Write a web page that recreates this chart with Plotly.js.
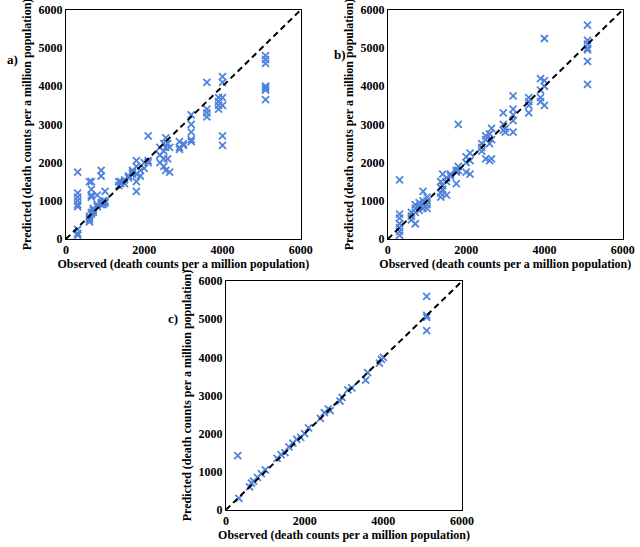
<!DOCTYPE html>
<html><head><meta charset="utf-8">
<script src="https://cdn.plot.ly/plotly-3.0.1.min.js"></script>
<style>body{margin:0;background:#fff}#c{width:640px;height:547px}</style>
</head><body><div id="c"></div>
<script>
const obsA=[300,300,300,300,300,300,300,300,300,600,600,600,600,600,650,650,650,650,650,650,700,700,700,800,800,800,900,900,900,900,950,950,950,1000,1000,1000,1350,1350,1400,1400,1500,1500,1600,1600,1700,1700,1700,1800,1800,1800,1800,1800,1900,1900,2000,2000,2100,2100,2100,2400,2400,2400,2500,2500,2500,2500,2550,2550,2550,2600,2600,2650,2650,2900,2900,2900,3000,3000,3200,3200,3200,3200,3200,3600,3600,3600,3600,3900,3900,3900,3900,4000,4000,4000,4000,4000,4000,5100,5100,5100,5100,5100,5100,5100];
const predA=[1750,1200,1100,1000,900,850,250,150,100,1500,600,550,500,450,1500,1300,1150,1100,700,650,800,750,700,900,850,1150,1800,1650,950,900,1000,950,900,1250,1000,950,1500,1400,1450,1500,1550,1450,1650,1600,1700,1750,1800,2050,1900,1500,1250,1700,1800,1650,1850,2000,2700,2050,2000,2400,2200,2000,2500,2300,2100,1900,2650,2400,1800,2500,2100,1750,2400,2550,2400,2350,2500,2450,3250,3000,2800,2600,2550,4100,3400,3300,3200,3700,3600,3500,3400,4250,4100,3700,3500,2700,2450,4800,4700,4600,4000,3950,3900,3650];
const obsB=[300,300,300,300,300,300,300,600,600,600,700,700,700,700,800,800,800,900,900,900,900,1000,1000,1000,1000,1350,1350,1350,1350,1400,1400,1400,1500,1500,1500,1600,1600,1750,1750,1750,1800,1800,1800,2000,2000,2000,2100,2100,2100,2400,2400,2400,2500,2500,2500,2600,2600,2600,2650,2650,2650,2950,2950,2950,3000,3000,3200,3200,3200,3200,3200,3600,3600,3600,3600,3900,3900,3900,3900,4000,4000,4000,4000,5100,5100,5100,5100,5100,5100,5100];
const predB=[1550,650,550,400,300,200,100,700,600,500,900,800,700,400,950,850,750,1250,1000,900,800,1100,1000,900,800,1500,1350,1200,1100,1700,1400,1300,1600,1500,1150,1650,1700,1800,1750,1450,3000,1900,1800,2150,2000,1750,2250,2050,1700,2500,2400,2300,2700,2600,2100,2750,2500,2050,2900,2600,2100,3300,3000,2850,2900,2800,3750,3400,3250,3100,2800,3700,3600,3500,3300,4200,3900,3700,3600,5250,4150,4000,3500,5600,5200,5100,5000,4950,4650,4050];
const obsC=[300,330,600,650,700,800,900,1000,1300,1400,1500,1600,1700,1800,1900,2000,2100,2400,2500,2600,2650,2900,2950,3100,3200,3550,3600,3900,3950,4000,5100,5100,5100,5100];
const predC=[1420,300,600,700,750,850,950,1050,1350,1450,1500,1650,1750,1850,1900,2000,2150,2400,2550,2650,2600,2850,2950,3150,3200,3400,3600,3850,3950,4000,5600,5100,5050,4700];
const ticks=[0,2000,4000,6000], yticks=[0,1000,2000,3000,4000,5000,6000];
const xTitle='Observed (death counts per a million population)';
const yTitle='Predicted (death counts per a million population)';
const FAM='"Liberation Serif", "Times New Roman", serif';
const F={family:FAM,size:12,color:'#000'};
const col='#4f83dc';
function sc(x,y,n){return {x,y,xaxis:'x'+n,yaxis:'y'+n,type:'scatter',mode:'markers',marker:{symbol:'x-thin',size:7,line:{color:col,width:1.8}},hoverinfo:'skip'};}
function dl(n){return {x:[0,6000],y:[0,6000],xaxis:'x'+n,yaxis:'y'+n,mode:'lines',line:{color:'#000',width:2,dash:'6px,4px'},hoverinfo:'skip'};}
const data=[sc(obsA,predA,''),dl(''),sc(obsB,predB,'2'),dl('2'),sc(obsC,predC,'3'),dl('3')];
function ax(dom,anchor,isY){return {domain:dom,anchor,range:[0,6000],tickvals:isY?yticks:ticks,showgrid:false,zeroline:false,showline:true,mirror:true,linecolor:'#000',linewidth:1,ticks:'',tickfont:{family:FAM,size:12,color:'#000',weight:'bold'},title:{text:'<b>'+(isY?yTitle:xTitle)+'</b>',font:F,standoff:isY?4:2}};}
const layout={width:640,height:547,margin:{l:0,r:0,t:0,b:0},showlegend:false,paper_bgcolor:'#fff',plot_bgcolor:'#fff',font:{family:FAM},
xaxis:ax([0.103,0.470],'y',false),yaxis:ax([0.563,0.982],'x',true),
xaxis2:ax([0.606,0.973],'y2',false),yaxis2:ax([0.563,0.982],'x2',true),
xaxis3:ax([0.353,0.722],'y3',false),yaxis3:ax([0.068,0.486],'x3',true),
annotations:[
{text:'<b>a)</b>',x:0.008,y:1-50/547,xref:'paper',yref:'paper',showarrow:false,xanchor:'left',font:{family:FAM,size:13,color:'#000'}},
{text:'<b>b)</b>',x:332/640,y:1-45/547,xref:'paper',yref:'paper',showarrow:false,xanchor:'left',font:{family:FAM,size:13,color:'#000'}},
{text:'<b>c)</b>',x:166/640,y:1-318/547,xref:'paper',yref:'paper',showarrow:false,xanchor:'left',font:{family:FAM,size:13,color:'#000'}}]};
Plotly.newPlot('c',data,layout,{staticPlot:true});
</script></body></html>
